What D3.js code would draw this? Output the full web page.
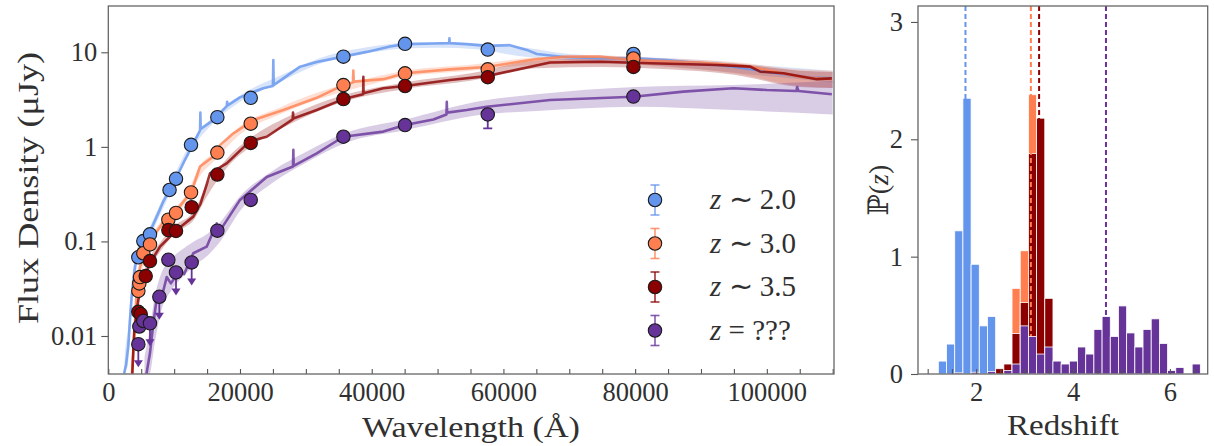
<!DOCTYPE html>
<html><head><meta charset="utf-8">
<script src="https://cdn.jsdelivr.net/npm/d3@7"></script>
<style>
body{margin:0;background:#fff}
svg{display:block}
</style>
</head><body>
<svg id="c" width="1214" height="446"></svg>
<script>
// ---------------- DATA ----------------
// model SED lines: [wavelength (Å), flux (µJy)]
const lineZ20 = [[2400,0.004],[2700,0.005],[3040,0.0078],[3300,0.015],[3550,0.026],[4000,0.05],[4310,0.069],[5000,0.09],[5830,0.112],[6800,0.15],[7600,0.20],[8300,0.26],[9110,0.33],[10390,0.48],[11650,0.73],[12660,1.0],[13930,1.5],[13980,2.3],[14030,1.55],[15950,1.92],[17980,2.7],[18050,3.0],[18120,2.75],[20000,3.34],[21520,3.69],[23540,4.17],[25000,4.4],[25060,8.3],[25120,4.5],[26580,5.3],[29120,7.05],[31650,7.9],[35700,9.0],[39250,10.1],[42790,11.5],[45060,12.2],[49360,12.4],[51750,12.5],[51800,14.1],[51850,12.5],[54430,12.2],[57470,11.7],[61000,11.9],[63550,10.6],[65070,9.6],[69620,8.85],[74680,8.65],[79740,8.65],[84800,8.3],[89870,7.66],[94930,7.05],[100000,6.24],[105060,5.52],[109870,5.3]];
const lineZ30 = [[3600,0.004],[3800,0.007],[4060,0.0138],[4310,0.031],[4810,0.054],[5830,0.081],[6840,0.112],[8610,0.17],[10390,0.215],[12410,0.32],[13000,0.4],[13930,0.62],[15950,0.79],[17000,1.05],[18990,1.39],[22020,1.92],[26580,2.45],[31650,3.3],[35700,4.5],[37150,4.8],[37210,6.4],[37270,4.9],[41770,5.2],[45060,6.0],[51900,6.6],[57470,7.0],[64550,8.4],[69620,9.0],[74680,9.0],[79740,8.3],[89870,7.8],[97470,7.05],[105060,5.5],[109870,5.2]];
const lineZ35 = [[3650,0.004],[3800,0.007],[3950,0.0116],[4560,0.024],[5320,0.039],[6330,0.059],[7850,0.088],[10390,0.132],[12910,0.183],[14000,0.25],[14940,0.4],[15450,0.526],[17980,0.67],[21520,1.15],[24060,1.28],[28000,1.95],[28050,2.3],[28100,2.0],[31650,2.45],[35700,3.2],[38700,3.6],[38730,5.5],[38760,3.7],[41770,4.17],[45060,4.4],[51900,5.1],[57470,5.6],[67080,7.8],[74680,7.95],[82270,7.66],[92400,7.35],[97470,7.05],[98990,6.24],[102520,6.0],[107590,5.2],[109870,5.3]];
const lineZQ = [[5800,0.004],[6330,0.0066],[6840,0.0136],[7450,0.028],[8000,0.024],[8870,0.042],[9500,0.036],[10890,0.05],[11500,0.045],[12910,0.075],[14940,0.088],[16460,0.155],[16970,0.13],[20000,0.275],[24060,0.48],[28050,0.62],[28100,0.93],[28150,0.63],[31650,0.855],[35700,1.28],[41770,1.45],[45060,1.7],[49360,1.95],[51350,2.2],[51400,3.0],[51450,2.3],[54430,2.45],[57470,2.66],[67080,3.13],[79740,3.39],[87330,3.84],[94930,4.17],[100000,3.99],[104500,3.9],[104600,4.3],[104800,3.9],[109870,3.6]];

// uncertainty bands: [wavelength, low, high]
const bandZ20 = [[2400,0.0035,0.0045],[2500,0.004,0.006],[3000,0.005,0.012],[3500,0.018,0.035],[4300,0.055,0.08],[6000,0.10,0.13],[8000,0.2,0.26],[10000,0.4,0.5],[12500,0.9,1.1],[16000,1.8,2.1],[20000,3.0,3.5],[26000,4.8,5.6],[32000,7.5,8.6],[40000,10.0,11.5],[45000,11.0,12.6],[50000,11.2,12.8],[56000,10.8,12.4],[62000,9.2,11.5],[70000,8.2,9.6],[80000,7.5,9.0],[90000,6.6,8.3],[100000,5.6,7.2],[110000,4.8,6.4]];
const bandZ30 = [[3600,0.0035,0.006],[4000,0.01,0.016],[4500,0.026,0.038],[5500,0.06,0.08],[7000,0.11,0.13],[9000,0.16,0.19],[12000,0.27,0.33],[14000,0.5,0.65],[16000,0.7,0.85],[20000,1.35,1.65],[26000,2.2,2.6],[32000,3.2,3.8],[40000,4.6,5.4],[45000,5.5,6.4],[55000,6.4,7.4],[65000,7.4,8.8],[75000,7.6,9.2],[85000,7.0,8.6],[95000,6.0,7.9],[105000,4.4,6.6],[110000,4.2,6.4]];
const bandZ35 = [[3650,0.0035,0.006],[4000,0.009,0.014],[4500,0.019,0.028],[5300,0.034,0.046],[6300,0.052,0.068],[8000,0.08,0.1],[10000,0.12,0.145],[13000,0.17,0.21],[15000,0.3,0.4],[18000,0.6,0.75],[22000,1.05,1.3],[28000,1.8,2.2],[35000,2.9,3.4],[45000,4.1,4.8],[55000,5.0,6.0],[65000,6.8,8.2],[75000,7.0,8.6],[85000,6.6,8.2],[95000,5.8,7.6],[105000,4.3,6.4],[110000,4.2,6.2]];
const bandZQ = [[5500,0.0035,0.006],[6300,0.004,0.012],[7000,0.008,0.025],[8000,0.018,0.045],[9500,0.03,0.065],[11000,0.04,0.08],[13000,0.055,0.1],[15000,0.07,0.12],[17000,0.1,0.16],[20000,0.21,0.3],[25000,0.42,0.56],[30000,0.68,0.88],[36000,1.1,1.4],[45000,1.5,1.95],[57000,2.2,3.1],[65000,2.4,3.6],[80000,2.66,4.3],[95000,2.45,4.5],[110000,2.2,5.0]];

// photometry: [wavelength, flux, errLow, errHigh]
const ptsZ20 = [[4560,0.068],[5320,0.101],[6330,0.119],[9300,0.35],[10280,0.46],[12560,1.05],[16560,2.06],[21630,3.3],[35700,9.0],[45060,12.3],[57620,10.7],[79740,9.6]];
const ptsZ30 = [[4560,0.030],[4710,0.036],[4810,0.042],[5320,0.075],[6330,0.093],[9120,0.17],[10280,0.20],[12560,0.33],[16560,0.87],[21630,1.76],[35700,4.5],[45060,6.0],[57620,6.6],[79740,8.6]];
const ptsZ35 = [[4560,0.018],[4920,0.017],[5680,0.043],[6330,0.062],[9120,0.132],[10280,0.129],[12660,0.23],[16560,0.51],[21630,1.1],[35700,3.2],[45060,4.4],[57620,5.45],[79740,7.0]];
const ptsZQ = [[4710,0.0126],[5320,0.0144],[9120,0.064],[16560,0.13],[21630,0.275],[35700,1.28],[45060,1.7],[57620,2.2,1.57,2.35],[79740,3.4]];
const ulZQ = [[4560,0.0082],[6330,0.0136],[7750,0.026],[10280,0.047],[12660,0.060]];

// redshift histograms (probability density per bin), common bins
const binStart = 1.22, binWidth = 0.169;
const histZ20 = [0.11,0.255,1.22,2.35,0.935,0.41,0.49];
const histZ30 = [0,0,0,0,0,0,0,0,0,0.73,1.05,2.38];
const histZ35 = [0,0,0,0,0,0,0,0.045,0.085,0.345,0.61,1.88,2.18,0.645];
const histZQ = [0,0,0.01,0,0.015,0,0.02,0,0.03,0.085,0.41,0.32,0.17,0.23,0.11,0.085,0.11,0.23,0.17,0.38,0.49,0.32,0.58,0.35,0.23,0.38,0.47,0.26,0.03,0.055,0,0.085];
const zBest = [1.78, 3.13, 3.30, 4.68];

const legendLabels = [["z"," ∼ 2.0"],["z"," ∼ 3.0"],["z"," ∼ 3.5"],["z"," = ???"]];
const xTickLabelsL = ["0","20000","40000","60000","80000","100000"];
const yTickLabelsL = ["0.01","0.1","1","10"];
const yTickLabelsR = ["0","1","2","3"];
const xTickLabelsR = ["2","4","6"];

// ---------------- STYLE ----------------
const COL = ["#6495ED","#FF7F50","#8B0000","#663399"];
const FONT = "'Liberation Serif', 'Times New Roman', serif";
const TXT = "#303030";
const svg = d3.select("#c");
const L = {x0:108.3, x1:834, y0:6, y1:374};
const R = {x0:918, x1:1207.7, y0:6, y1:374};

const xL = d3.scaleLinear().domain([0,110200]).range([L.x0,L.x1]);
const yL = d3.scaleLog().domain([0.003964,30.88]).range([L.y1,L.y0]);
const xR = d3.scaleLinear().domain([0.8,6.78]).range([R.x0,R.x1]);
const yR = d3.scaleLinear().domain([0,3.136]).range([R.y1,R.y0]);

svg.append("defs").append("clipPath").attr("id","clipL").append("rect")
  .attr("x",L.x0).attr("y",L.y0).attr("width",L.x1-L.x0).attr("height",L.y1-L.y0);
svg.select("defs").append("clipPath").attr("id","clipR").append("rect")
  .attr("x",R.x0).attr("y",R.y0).attr("width",R.x1-R.x0).attr("height",R.y1-R.y0);

// ---- left panel ----
const gL = svg.append("g").attr("clip-path","url(#clipL)");
const bands = [bandZ20,bandZ30,bandZ35,bandZQ];
const lines = [lineZ20,lineZ30,lineZ35,lineZQ];
const pts = [ptsZ20,ptsZ30,ptsZ35,ptsZQ];
const area = d3.area().x(d=>xL(d[0])).y0(d=>yL(d[1])).y1(d=>yL(d[2])).curve(d3.curveMonotoneX);
const line = d3.line().x(d=>xL(d[0])).y(d=>yL(d[1]));
bands.forEach((b,i)=>gL.append("path").attr("d",area(b)).attr("fill",COL[i]).attr("fill-opacity",0.25));
lines.forEach((l,i)=>gL.append("path").attr("d",line(l)).attr("fill","none").attr("stroke",COL[i])
  .attr("stroke-width",2.6).attr("stroke-opacity",0.8).attr("stroke-linejoin","round"));

pts.forEach((p,i)=>{
  const g = gL.append("g");
  if(i===3){
    ulZQ.forEach(d=>{
      const x=xL(d[0]), y=yL(d[1]), ye=y+23;
      g.append("line").attr("x1",x).attr("x2",x).attr("y1",y).attr("y2",ye-5).attr("stroke",COL[i]).attr("stroke-width",1.8);
      g.append("path").attr("d",`M${x-4.5},${ye-7}L${x+4.5},${ye-7}L${x},${ye}Z`).attr("fill",COL[i]);
    });
  }
  p.filter(d=>d.length>2).forEach(d=>{
    const x=xL(d[0]);
    g.append("line").attr("x1",x).attr("x2",x).attr("y1",yL(d[2])).attr("y2",yL(d[3])).attr("stroke",COL[i]).attr("stroke-width",1.8);
    [d[2],d[3]].forEach(v=>g.append("line").attr("x1",x-4.5).attr("x2",x+4.5).attr("y1",yL(v)).attr("y2",yL(v)).attr("stroke",COL[i]).attr("stroke-width",1.8));
  });
  const all = i===3 ? p.concat(ulZQ) : p;
  g.selectAll("circle").data(all).join("circle").attr("cx",d=>xL(d[0])).attr("cy",d=>yL(d[1])).attr("r",6.7)
    .attr("fill",COL[i]).attr("stroke","#1a1a1a").attr("stroke-width",1.1);
});

// axes left
const axL = svg.append("g").attr("transform",`translate(0,${L.y1})`)
  .call(d3.axisBottom(xL).tickValues(d3.range(0,110001,5000)).tickSize(-5).tickPadding(8)
    .tickFormat(d=> d%20000===0 ? xTickLabelsL[d/20000] : ""));
const ayL = svg.append("g").attr("transform",`translate(${L.x0},0)`)
  .call(d3.axisLeft(yL).tickValues([0.01,0.1,1,10]).tickSize(7).tickPadding(4)
    .tickFormat((d,i)=>yTickLabelsL[i]));
[axL,ayL].forEach(a=>{a.select(".domain").remove();a.selectAll("line").attr("stroke","#555").attr("stroke-width",1.1);
  a.selectAll("text").attr("font-size",26.5);});
svg.append("rect").attr("x",L.x0).attr("y",L.y0).attr("width",L.x1-L.x0).attr("height",L.y1-L.y0)
  .attr("fill","none").attr("stroke","#666").attr("stroke-width",1.3);

// legend
const lg = svg.append("g");
legendLabels.forEach((t,i)=>{
  const y = 200 + i*43.5, x = 655;
  lg.append("line").attr("x1",x).attr("x2",x).attr("y1",y-15).attr("y2",y+15).attr("stroke",COL[i]).attr("stroke-width",1.6).attr("stroke-opacity",0.8);
  [y-15,y+15].forEach(v=>lg.append("line").attr("x1",x-4.5).attr("x2",x+4.5).attr("y1",v).attr("y2",v).attr("stroke",COL[i]).attr("stroke-width",1.6).attr("stroke-opacity",0.8));
  lg.append("circle").attr("cx",x).attr("cy",y).attr("r",6.7).attr("fill",COL[i]).attr("stroke","#1a1a1a").attr("stroke-width",1.1);
  const tx = lg.append("text").attr("x",710).attr("y",y+9).attr("font-size",29);
  tx.append("tspan").attr("font-style","italic").text(t[0]);
  tx.append("tspan").text(t[1]);
});

svg.append("text").attr("x",471).attr("y",437).attr("text-anchor","middle").attr("font-size",30)
  .attr("textLength",218).attr("lengthAdjust","spacingAndGlyphs").text("Wavelength (Å)");
svg.append("text").attr("transform","translate(38,188) rotate(-90)").attr("text-anchor","middle").attr("font-size",30)
  .attr("textLength",272).attr("lengthAdjust","spacingAndGlyphs").text("Flux Density (μJy)");

// ---- right panel ----
const gR = svg.append("g").attr("clip-path","url(#clipR)");
const hists = [histZ20,histZ30,histZ35,histZQ];
function drawHist(i){
  gR.append("g").selectAll("rect").data(hists[i].map((h,k)=>({h,k})).filter(d=>d.h>0)).join("rect")
    .attr("x",d=>xR(binStart+d.k*binWidth)).attr("width",d=>xR(binStart+(d.k+1)*binWidth)-xR(binStart+d.k*binWidth))
    .attr("y",d=>yR(d.h)).attr("height",d=>yR(0)-yR(d.h))
    .attr("fill",COL[i]).attr("stroke","#fff").attr("stroke-width",0.8);
}
function drawBest(i){
  gR.append("line").attr("x1",xR(zBest[i])).attr("x2",xR(zBest[i])).attr("y1",R.y0).attr("y2",R.y1)
    .attr("stroke",COL[i]).attr("stroke-width",2).attr("stroke-dasharray","5,3");
}
drawHist(0); drawHist(1); drawHist(2);
drawBest(0); drawBest(1); drawBest(2);
drawHist(3); drawBest(3);

const axR = svg.append("g").attr("transform",`translate(0,${R.y1})`)
  .call(d3.axisBottom(xR).tickValues(d3.range(1,6.51,0.5)).tickSize(-5).tickPadding(8)
    .tickFormat(d=> (d%2===0) ? xTickLabelsR[d/2-1] : ""));
const ayR = svg.append("g").attr("transform",`translate(${R.x0},0)`)
  .call(d3.axisLeft(yR).tickValues([0,1,2,3]).tickSize(7).tickPadding(8).tickFormat((d,i)=>yTickLabelsR[i]));
[axR,ayR].forEach(a=>{a.select(".domain").remove();a.selectAll("line").attr("stroke","#555").attr("stroke-width",1.1);
  a.selectAll("text").attr("font-size",26.5);});
svg.append("rect").attr("x",R.x0).attr("y",R.y0).attr("width",R.x1-R.x0).attr("height",R.y1-R.y0)
  .attr("fill","none").attr("stroke","#666").attr("stroke-width",1.3);

svg.append("text").attr("x",1063).attr("y",435).attr("text-anchor","middle").attr("font-size",30)
  .attr("textLength",112).attr("lengthAdjust","spacingAndGlyphs").text("Redshift");
const py = svg.append("text").attr("transform","translate(888,190) rotate(-90)").attr("text-anchor","middle").attr("font-size",28);
py.append("tspan").attr("class","bb").text("ℙ");
py.append("tspan").text("(");
py.append("tspan").attr("font-style","italic").text("z");
py.append("tspan").text(")");

// force fonts with inline styles
svg.selectAll("text").style("font-family",FONT).style("fill",TXT);
svg.selectAll("tspan.bb").style("font-family","'DejaVu Serif', serif");
</script>
</body></html>
